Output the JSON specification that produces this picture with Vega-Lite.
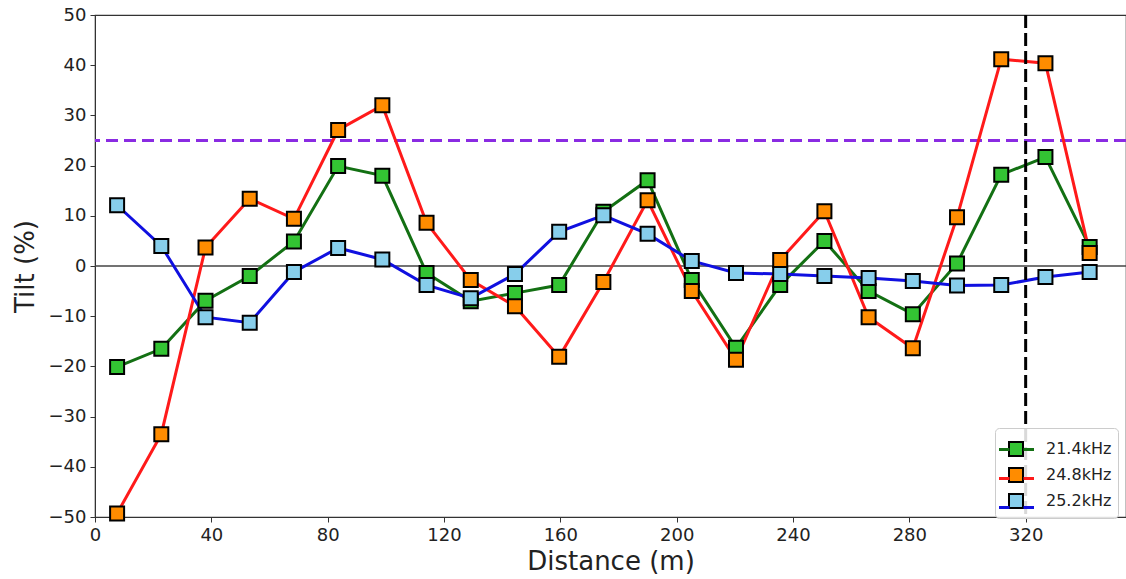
{
  "$schema": "https://vega.github.io/schema/vega-lite/v6.json",
  "width": 1031,
  "height": 502,
  "autosize": "none",
  "padding": {"left": 95, "top": 15, "right": 0, "bottom": 62},
  "background": "white",
  "config": {
    "font": "DejaVu Sans",
    "view": {"stroke": "#333", "strokeWidth": 1.2},
    "axis": {
      "grid": false,
      "labelFontSize": 18,
      "titleFontSize": 26,
      "titleFontWeight": "normal",
      "labelColor": "#222",
      "titleColor": "#222",
      "tickColor": "#333",
      "domainColor": "#333",
      "tickSize": 5,
      "labelPadding": 4,
      "labelFlush": false,
      "labelOverlap": false
    }
  },
  "data": {
    "values": [
      {"distance": 7.6, "tilt": -20.1, "freq": "21.4kHz"},
      {"distance": 22.8, "tilt": -16.5, "freq": "21.4kHz"},
      {"distance": 38.0, "tilt": -6.9, "freq": "21.4kHz"},
      {"distance": 53.2, "tilt": -2.0, "freq": "21.4kHz"},
      {"distance": 68.4, "tilt": 4.9, "freq": "21.4kHz"},
      {"distance": 83.6, "tilt": 19.9, "freq": "21.4kHz"},
      {"distance": 98.8, "tilt": 18.0, "freq": "21.4kHz"},
      {"distance": 114.0, "tilt": -1.4, "freq": "21.4kHz"},
      {"distance": 129.2, "tilt": -7.0, "freq": "21.4kHz"},
      {"distance": 144.4, "tilt": -5.4, "freq": "21.4kHz"},
      {"distance": 159.6, "tilt": -3.8, "freq": "21.4kHz"},
      {"distance": 174.8, "tilt": 10.8, "freq": "21.4kHz"},
      {"distance": 190.0, "tilt": 17.1, "freq": "21.4kHz"},
      {"distance": 205.2, "tilt": -2.8, "freq": "21.4kHz"},
      {"distance": 220.4, "tilt": -16.3, "freq": "21.4kHz"},
      {"distance": 235.6, "tilt": -3.8, "freq": "21.4kHz"},
      {"distance": 250.8, "tilt": 5.0, "freq": "21.4kHz"},
      {"distance": 266.0, "tilt": -5.0, "freq": "21.4kHz"},
      {"distance": 281.2, "tilt": -9.6, "freq": "21.4kHz"},
      {"distance": 296.4, "tilt": 0.5, "freq": "21.4kHz"},
      {"distance": 311.6, "tilt": 18.2, "freq": "21.4kHz"},
      {"distance": 326.8, "tilt": 21.7, "freq": "21.4kHz"},
      {"distance": 342.0, "tilt": 3.8, "freq": "21.4kHz"},
      {"distance": 7.6, "tilt": -49.3, "freq": "24.8kHz"},
      {"distance": 22.8, "tilt": -33.5, "freq": "24.8kHz"},
      {"distance": 38.0, "tilt": 3.7, "freq": "24.8kHz"},
      {"distance": 53.2, "tilt": 13.4, "freq": "24.8kHz"},
      {"distance": 68.4, "tilt": 9.4, "freq": "24.8kHz"},
      {"distance": 83.6, "tilt": 27.1, "freq": "24.8kHz"},
      {"distance": 98.8, "tilt": 32.0, "freq": "24.8kHz"},
      {"distance": 114.0, "tilt": 8.6, "freq": "24.8kHz"},
      {"distance": 129.2, "tilt": -2.8, "freq": "24.8kHz"},
      {"distance": 144.4, "tilt": -8.0, "freq": "24.8kHz"},
      {"distance": 159.6, "tilt": -18.1, "freq": "24.8kHz"},
      {"distance": 174.8, "tilt": -3.2, "freq": "24.8kHz"},
      {"distance": 190.0, "tilt": 13.1, "freq": "24.8kHz"},
      {"distance": 205.2, "tilt": -5.0, "freq": "24.8kHz"},
      {"distance": 220.4, "tilt": -18.7, "freq": "24.8kHz"},
      {"distance": 235.6, "tilt": 1.2, "freq": "24.8kHz"},
      {"distance": 250.8, "tilt": 10.9, "freq": "24.8kHz"},
      {"distance": 266.0, "tilt": -10.2, "freq": "24.8kHz"},
      {"distance": 281.2, "tilt": -16.4, "freq": "24.8kHz"},
      {"distance": 296.4, "tilt": 9.7, "freq": "24.8kHz"},
      {"distance": 311.6, "tilt": 41.2, "freq": "24.8kHz"},
      {"distance": 326.8, "tilt": 40.4, "freq": "24.8kHz"},
      {"distance": 342.0, "tilt": 2.6, "freq": "24.8kHz"},
      {"distance": 7.6, "tilt": 12.1, "freq": "25.2kHz"},
      {"distance": 22.8, "tilt": 4.0, "freq": "25.2kHz"},
      {"distance": 38.0, "tilt": -10.2, "freq": "25.2kHz"},
      {"distance": 53.2, "tilt": -11.3, "freq": "25.2kHz"},
      {"distance": 68.4, "tilt": -1.2, "freq": "25.2kHz"},
      {"distance": 83.6, "tilt": 3.6, "freq": "25.2kHz"},
      {"distance": 98.8, "tilt": 1.3, "freq": "25.2kHz"},
      {"distance": 114.0, "tilt": -3.8, "freq": "25.2kHz"},
      {"distance": 129.2, "tilt": -6.4, "freq": "25.2kHz"},
      {"distance": 144.4, "tilt": -1.6, "freq": "25.2kHz"},
      {"distance": 159.6, "tilt": 6.8, "freq": "25.2kHz"},
      {"distance": 174.8, "tilt": 10.1, "freq": "25.2kHz"},
      {"distance": 190.0, "tilt": 6.4, "freq": "25.2kHz"},
      {"distance": 205.2, "tilt": 1.0, "freq": "25.2kHz"},
      {"distance": 220.4, "tilt": -1.4, "freq": "25.2kHz"},
      {"distance": 235.6, "tilt": -1.6, "freq": "25.2kHz"},
      {"distance": 250.8, "tilt": -2.0, "freq": "25.2kHz"},
      {"distance": 266.0, "tilt": -2.4, "freq": "25.2kHz"},
      {"distance": 281.2, "tilt": -3.0, "freq": "25.2kHz"},
      {"distance": 296.4, "tilt": -3.9, "freq": "25.2kHz"},
      {"distance": 311.6, "tilt": -3.8, "freq": "25.2kHz"},
      {"distance": 326.8, "tilt": -2.2, "freq": "25.2kHz"},
      {"distance": 342.0, "tilt": -1.2, "freq": "25.2kHz"}
    ]
  },
  "encoding": {
    "x": {
      "field": "distance",
      "type": "quantitative",
      "scale": {"domain": [0, 354.5], "nice": false, "zero": false},
      "axis": {"title": "Distance (m)", "values": [0, 40, 80, 120, 160, 200, 240, 280, 320], "titlePadding": 4}
    },
    "y": {
      "field": "tilt",
      "type": "quantitative",
      "scale": {"domain": [-50, 50], "nice": false},
      "axis": {"title": "Tilt (%)", "values": [-50, -40, -30, -20, -10, 0, 10, 20, 30, 40, 50], "titlePadding": 10}
    }
  },
  "layer": [
    {
      "data": {"values": [{"level": 0}]},
      "mark": {"type": "rule", "color": "#444", "strokeWidth": 1.5},
      "encoding": {"x": null, "y": {"field": "level", "type": "quantitative"}}
    },
    {
      "data": {"values": [{"level": 25}]},
      "mark": {"type": "rule", "color": "#8a2be2", "strokeWidth": 3, "strokeDash": [12, 6]},
      "encoding": {"x": null, "y": {"field": "level", "type": "quantitative"}}
    },
    {
      "mark": {"type": "line", "strokeWidth": 3},
      "encoding": {
        "stroke": {
          "field": "freq",
          "type": "nominal",
          "scale": {"domain": ["21.4kHz", "24.8kHz", "25.2kHz"], "range": ["#137013", "#ff1a1a", "#1010e0"]},
          "legend": {
            "orient": "none", "legendX": 900, "legendY": 413, "title": null, "zindex": 2,
            "symbolType": "M-1.25,0H-0.5M0.5,0H1.25M0,-0.5M0,0.5", "symbolSize": 784, "symbolStrokeWidth": 3,
            "symbolFillColor": "transparent",
            "labelExpr": "' '", "labelFontSize": 16, "labelOffset": 15, "rowPadding": -3.5,
            "padding": 6
          }
        }
      }
    },
    {
      "mark": {"type": "point", "shape": "square", "filled": true, "size": 196, "stroke": "black", "strokeWidth": 2, "opacity": 1},
      "encoding": {
        "fill": {
          "field": "freq",
          "type": "nominal",
          "scale": {"range": ["#33c433", "#ff8c00", "#87ceeb"]},
          "legend": {
            "orient": "none", "legendX": 900, "legendY": 413, "title": null, "zindex": 1,
            "symbolType": "M-0.5,-0.5H0.5V0.5H-0.5Z", "symbolSize": 784, "symbolStrokeColor": "black", "symbolStrokeWidth": 2,
            "labelFontSize": 16, "labelColor": "#222", "labelOffset": 15, "rowPadding": -3.5, "padding": 6,
            "fillColor": "rgba(255,255,255,0.85)", "strokeColor": "#ccc", "cornerRadius": 4
          }
        }
      }
    },
    {
      "data": {"values": [{"mark_at": 320}]},
      "mark": {"type": "rule", "color": "black", "strokeWidth": 3, "strokeDash": [13, 5]},
      "encoding": {"y": null, "x": {"field": "mark_at", "type": "quantitative"}}
    }
  ]
}
